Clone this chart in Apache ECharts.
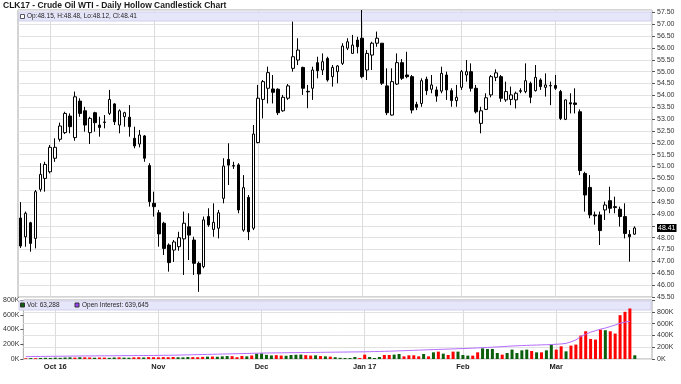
<!DOCTYPE html>
<html><head><meta charset="utf-8">
<script src="https://cdn.jsdelivr.net/npm/echarts@6/dist/echarts.min.js"></script>
<style>html,body{margin:0;padding:0;background:#fff}#c{width:681px;height:384px}</style>
</head><body><div id="c"></div>
<script>
// Trading days (last three are empty future slots on the axis)
const dates = [
'2016-09-23','2016-09-26','2016-09-27','2016-09-28','2016-09-29','2016-09-30',
'2016-10-03','2016-10-04','2016-10-05','2016-10-06','2016-10-07','2016-10-10','2016-10-11','2016-10-12','2016-10-13','2016-10-14','2016-10-17','2016-10-18','2016-10-19','2016-10-20','2016-10-21','2016-10-24','2016-10-25','2016-10-26','2016-10-27','2016-10-28','2016-10-31',
'2016-11-01','2016-11-02','2016-11-03','2016-11-04','2016-11-07','2016-11-08','2016-11-09','2016-11-10','2016-11-11','2016-11-14','2016-11-15','2016-11-16','2016-11-17','2016-11-18','2016-11-21','2016-11-22','2016-11-23','2016-11-25','2016-11-28','2016-11-29','2016-11-30',
'2016-12-01','2016-12-02','2016-12-05','2016-12-06','2016-12-07','2016-12-08','2016-12-09','2016-12-12','2016-12-13','2016-12-14','2016-12-15','2016-12-16','2016-12-19','2016-12-20','2016-12-21','2016-12-22','2016-12-23','2016-12-27','2016-12-28','2016-12-29','2016-12-30',
'2017-01-03','2017-01-04','2017-01-05','2017-01-06','2017-01-09','2017-01-10','2017-01-11','2017-01-12','2017-01-13','2017-01-17','2017-01-18','2017-01-19','2017-01-20','2017-01-23','2017-01-24','2017-01-25','2017-01-26','2017-01-27','2017-01-30','2017-01-31',
'2017-02-01','2017-02-02','2017-02-03','2017-02-06','2017-02-07','2017-02-08','2017-02-09','2017-02-10','2017-02-13','2017-02-14','2017-02-15','2017-02-16','2017-02-17','2017-02-21','2017-02-22','2017-02-23','2017-02-24','2017-02-27','2017-02-28',
'2017-03-01','2017-03-02','2017-03-03','2017-03-06','2017-03-07','2017-03-08','2017-03-09','2017-03-10','2017-03-13','2017-03-14','2017-03-15','2017-03-16','2017-03-17','2017-03-20','2017-03-21','2017-03-22','2017-03-23',
'2017-03-24','2017-03-27','2017-03-28'
];
const monthLabels = ['Oct 16','Nov','Dec','Jan 17','Feb','Mar'];

const opens = [48.83,48.04,48.63,47.97,50.04,50.50,50.78,51.35,52.15,52.43,
53.13,52.22,53.76,53.35,52.43,53.27,52.75,52.86,53.24,53.64,
52.75,53.10,53.08,52.19,51.95,52.29,51.04,49.45,49.05,48.61,
47.69,47.48,47.62,47.95,48.46,47.90,46.92,46.78,48.89,48.35,
48.40,49.66,51.30,51.04,51.07,48.32,49.70,48.40,52.01,53.83,
54.30,54.27,54.26,53.35,53.88,55.14,55.49,55.18,54.17,54.30,
55.38,55.07,55.56,54.79,55.00,55.35,55.99,55.77,56.33,56.41,
55.07,55.70,56.20,56.20,54.40,53.17,54.48,55.38,54.86,54.79,
53.62,53.66,54.68,54.26,54.23,54.18,54.86,54.20,53.78,54.34,
54.86,55.00,54.30,52.82,53.41,54.02,54.76,54.79,53.81,53.83,
53.81,54.17,54.16,54.51,54.20,54.65,54.34,54.40,54.42,54.16,
52.99,53.69,53.68,53.31,50.71,50.12,48.96,48.96,49.17,49.56,
49.31,49.20,48.89,48.14,48.15];
const closes = [47.65,49.03,47.76,49.94,50.67,51.09,51.81,51.81,52.71,53.24,
52.68,53.94,53.24,52.75,53.03,52.85,52.65,52.88,53.83,52.89,
53.35,53.27,52.68,51.87,52.33,51.35,49.52,49.31,48.16,47.55,
46.95,47.82,48.00,48.61,48.11,46.92,46.47,48.75,48.54,48.65,
49.05,51.02,51.06,51.02,49.17,50.11,48.25,52.37,53.88,54.58,
54.96,54.13,53.27,53.92,54.40,55.63,55.91,54.30,54.15,55.07,
55.04,55.42,54.65,55.18,55.24,56.08,56.26,56.12,56.05,54.79,
55.77,56.20,56.41,54.51,53.27,54.58,55.38,54.72,54.79,53.38,
53.50,54.62,54.20,54.44,53.97,54.93,54.23,53.78,53.92,55.00,
55.00,54.30,53.31,53.35,53.90,54.79,54.95,53.88,54.16,54.02,
54.09,54.20,54.62,53.92,54.76,54.37,54.44,54.42,54.30,53.03,
53.81,53.64,53.62,50.83,49.80,48.96,48.92,48.30,49.38,49.24,
49.27,48.89,48.18,48.04,48.41];
const lows = [47.57,47.62,47.41,47.55,49.94,49.94,50.71,51.20,52.05,52.37,
52.40,52.09,53.10,52.47,51.95,52.47,52.26,52.61,53.17,52.75,
52.40,52.68,52.26,51.77,51.81,51.20,49.31,48.89,47.62,47.27,
46.57,46.98,47.45,46.43,47.06,46.43,45.72,46.71,48.46,48.04,
47.97,49.45,50.22,50.90,49.03,48.25,47.90,48.32,51.98,53.03,
53.66,53.66,53.17,53.31,53.81,55.00,55.28,54.02,53.46,53.81,
54.72,54.86,54.58,54.37,54.51,55.28,55.91,55.77,55.77,54.72,
54.65,55.07,56.05,54.44,53.17,53.15,54.44,54.65,54.72,53.24,
53.38,53.52,54.02,54.09,53.73,54.09,53.81,53.52,53.52,54.23,
54.58,54.16,53.24,52.40,53.38,53.92,54.60,53.73,53.73,53.59,
53.45,54.09,54.09,53.67,54.16,54.23,53.95,53.59,54.23,52.96,
52.96,53.24,53.24,50.64,49.10,48.82,48.55,47.69,48.75,49.03,
49.03,48.47,47.97,46.99,48.12];
const highs = [49.50,49.10,48.67,50.01,51.14,51.20,51.91,52.19,52.85,53.31,
53.24,54.16,53.88,53.52,53.10,53.31,53.10,53.17,54.23,53.67,
53.41,53.31,53.59,52.68,52.54,52.33,51.14,49.94,49.17,48.67,
47.76,47.90,48.25,49.10,49.03,48.04,46.99,48.89,49.24,49.45,
49.17,51.35,51.98,51.20,51.14,50.64,49.80,52.75,54.44,54.65,
55.21,54.86,54.30,54.02,54.48,57.11,56.41,55.21,54.44,55.21,
55.63,55.77,55.63,55.28,55.28,56.20,56.41,56.55,56.47,57.60,
55.91,56.26,56.69,56.20,55.14,55.14,55.77,55.53,55.84,54.86,
53.73,54.72,54.79,54.86,54.37,55.21,55.00,54.30,54.44,55.07,
55.49,55.35,54.44,53.52,54.09,54.86,55.10,54.86,54.58,54.37,
54.16,54.30,55.35,54.58,55.28,54.72,54.93,54.58,54.86,54.23,
53.83,54.09,54.30,53.41,50.78,50.64,49.10,49.10,49.52,50.15,
49.73,49.31,49.45,48.32,48.48];
const volumes = [12000,15000,14000,18000,20000,18000,22000,20000,25000,28000,
24000,30000,28000,26000,22000,25000,24000,20000,26000,28000,
24000,22000,28000,30000,26000,32000,30000,28000,32000,30000,
34000,30000,28000,34000,32000,30000,36000,40000,42000,38000,
45000,50000,48000,30000,52000,45000,60000,90000,95000,70000,
60000,65000,58000,55000,68000,72000,75000,65000,58000,62000,
50000,45000,40000,30000,20000,17000,17000,34000,17000,74000,
34000,17000,34000,68000,68000,74000,85000,45000,62000,62000,
45000,85000,45000,113000,125000,91000,68000,125000,125000,68000,
57000,57000,113000,181000,170000,170000,102000,74000,102000,159000,
102000,147000,159000,136000,113000,113000,147000,244000,159000,215000,
130000,227000,244000,397000,470000,340000,329000,499000,488000,470000,
431000,743000,800000,856000,63288];
const openInterest = [40000,41000,42000,43000,44000,45000,46000,47000,48000,49000,
50000,51000,52000,52000,53000,54000,54000,55000,55000,56000,
57000,57000,58000,58000,59000,60000,60000,61000,62000,63000,
64000,66000,68000,70000,72000,74000,76000,78000,80000,82000,
84000,86000,88000,90000,92000,94000,96000,98000,100000,102000,
103000,104000,105000,106000,107000,108000,109000,110000,111000,112000,
113000,114000,115000,116000,117000,118000,119000,120000,121000,122000,
124000,126000,128000,130000,132000,135000,138000,141000,144000,147000,
150000,153000,156000,159000,162000,165000,168000,171000,174000,177000,
180000,184000,188000,192000,196000,200000,205000,210000,215000,220000,
224000,228000,231000,234000,236000,240000,242000,245000,250000,255000,
265000,290000,323000,380000,420000,454000,480000,505000,525000,550000,
575000,608000,625000,639645,null];

const FONT = 'Liberation Sans';
const UP_VOL = '#0b5e0b', DN_VOL = '#ff0000';
const last = closes.length - 1;

const isMonthStart = i => i > 0 && dates[i].slice(0, 7) !== dates[i - 1].slice(0, 7);
const monthStarts = dates.map((d, i) => isMonthStart(i) ? i : -1).filter(i => i >= 0);

const candleData = opens.map((o, i) => [o, closes[i], lows[i], highs[i]]);
const volData = volumes.map((v, i) => ({
  value: v,
  itemStyle: { color: closes[i] >= opens[i] ? UP_VOL : DN_VOL }
}));

const vSplit = { show: true, interval: (i) => isMonthStart(i), alignWithLabel: true,
  lineStyle: { color: '#dcdcdc', width: 1 } };

const chart = echarts.init(document.getElementById('c'), null, { renderer: 'canvas' });
chart.setOption({
  animation: false,
  backgroundColor: '#fff',
  textStyle: { fontFamily: FONT },
  grid: [
    { left: 18, right: 29, top: 10, bottom: 87, show: true, borderColor: '#a8a8a8', borderWidth: 1, backgroundColor: '#fff' },
    { left: 18, right: 29, top: 300, bottom: 25, show: true, borderColor: '#a8a8a8', borderWidth: 1, backgroundColor: '#fff' }
  ],
  xAxis: [
    { type: 'category', gridIndex: 0, data: dates, boundaryGap: true,
      axisLine: { show: false }, axisTick: { show: false }, axisLabel: { show: false },
      splitLine: vSplit },
    { type: 'category', gridIndex: 1, data: dates, boundaryGap: true,
      axisLine: { show: false }, axisTick: { show: false },
      axisLabel: { show: true, interval: (i) => isMonthStart(i), margin: 4,
        fontSize: 7.5, fontWeight: 'bold', color: '#222', fontFamily: FONT,
        formatter: (v, idx) => monthLabels[monthStarts.indexOf(idx)] || '' },
      splitLine: vSplit }
  ],
  yAxis: [
    { type: 'value', gridIndex: 0, position: 'right', min: 45.5, max: 57.6, interval: 0.5,
      axisLine: { show: false },
      axisTick: { show: true, length: 3, lineStyle: { color: '#555' } },
      axisLabel: { margin: 5, fontSize: 7, color: '#333', fontFamily: FONT,
        showMaxLabel: false,
        formatter: v => (v > 57.55 || Math.abs(v - 48.5) < 0.01) ? '' : v.toFixed(2) },
      splitLine: { show: true, lineStyle: { color: '#e2e2e2', width: 1 } } },
    { type: 'value', gridIndex: 1, position: 'right', min: 0, max: 1000000, interval: 200000,
      axisLine: { show: false },
      axisTick: { show: true, length: 3, lineStyle: { color: '#555' } },
      axisLabel: { margin: 5, fontSize: 7, color: '#333', fontFamily: FONT,
        formatter: v => v >= 1000000 ? '' : (v / 1000) + 'K' },
      splitLine: { show: true, lineStyle: { color: '#e2e2e2', width: 1 } } },
    { type: 'value', gridIndex: 1, position: 'left', min: 0, max: 800000, interval: 200000,
      axisLine: { show: false },
      axisTick: { show: true, length: 3, lineStyle: { color: '#555' } },
      axisLabel: { margin: 4, fontSize: 7, color: '#333', fontFamily: FONT,
        formatter: v => (v / 1000) + 'K' },
      splitLine: { show: false } }
  ],
  series: [
    { type: 'candlestick', name: 'CLK17', xAxisIndex: 0, yAxisIndex: 0, data: candleData,
      barWidth: 3, clip: false,
      itemStyle: { color: '#ffffff', color0: '#000000', borderColor: '#000000', borderColor0: '#000000',
        borderColorDoji: '#000000', borderWidth: 1 },
      markLine: { silent: true, symbol: ['none', 'none'], animation: false, precision: 2,
        lineStyle: { color: 'rgba(0,0,0,0)', width: 0, type: 'solid' },
        label: { show: true, position: 'end', distance: 5, formatter: () => closes[last].toFixed(2),
          color: '#fff', backgroundColor: '#000', fontSize: 7, fontFamily: FONT, padding: [1, 1, 0, 1] },
        data: [{ yAxis: closes[last] }] } },
    { type: 'bar', name: 'Vol', xAxisIndex: 1, yAxisIndex: 1, data: volData, barWidth: 3 },
    { type: 'line', name: 'Open Interest', xAxisIndex: 1, yAxisIndex: 1, data: openInterest,
      symbol: 'none', lineStyle: { color: '#b46cff', width: 1 }, z: 3 }
  ],
  graphic: [
    { type: 'text', left: 3, top: 1, z: 10,
      style: { text: 'CLK17 - Crude Oil WTI - Daily Hollow Candlestick Chart',
        font: 'bold 8.5px "Liberation Sans"', fill: '#1a1a1a' } },
    { type: 'rect', shape: { x: 19, y: 12, width: 632, height: 9 }, z: 1,
      style: { fill: '#e6e6fa', stroke: '#cfcfec', lineWidth: 1 } },
    { type: 'rect', shape: { x: 20.5, y: 14.5, width: 4, height: 4 }, z: 12,
      style: { fill: '#fff', stroke: '#555', lineWidth: 1 } },
    { type: 'text', x: 27, y: 16.5, z: 12,
      style: { text: 'Op:' + opens[last].toFixed(2) + ', H:' + highs[last].toFixed(2) + ', Lo:' + lows[last].toFixed(2) + ', Cl:' + closes[last].toFixed(2),
        font: '6.5px "Liberation Sans"', fill: '#222', textVerticalAlign: 'middle' } },
    { type: 'rect', shape: { x: 19, y: 301, width: 632, height: 9 }, z: 1,
      style: { fill: '#e6e6fa', stroke: '#cfcfec', lineWidth: 1 } },
    { type: 'rect', shape: { x: 20.5, y: 303, width: 4, height: 4 }, z: 12,
      style: { fill: UP_VOL, stroke: '#333', lineWidth: 1 } },
    { type: 'text', x: 27, y: 305.5, z: 12,
      style: { text: 'Vol: ' + volumes[last].toLocaleString('en-US'),
        font: '6.5px "Liberation Sans"', fill: '#222', textVerticalAlign: 'middle' } },
    { type: 'rect', shape: { x: 75, y: 303, width: 4, height: 4 }, z: 12,
      style: { fill: '#a040ff', stroke: '#333', lineWidth: 1 } },
    { type: 'text', x: 82, y: 305.5, z: 12,
      style: { text: 'Open Interest: ' + openInterest[last - 1].toLocaleString('en-US'),
        font: '6.5px "Liberation Sans"', fill: '#222', textVerticalAlign: 'middle' } }
  ]
});
</script></body></html>
